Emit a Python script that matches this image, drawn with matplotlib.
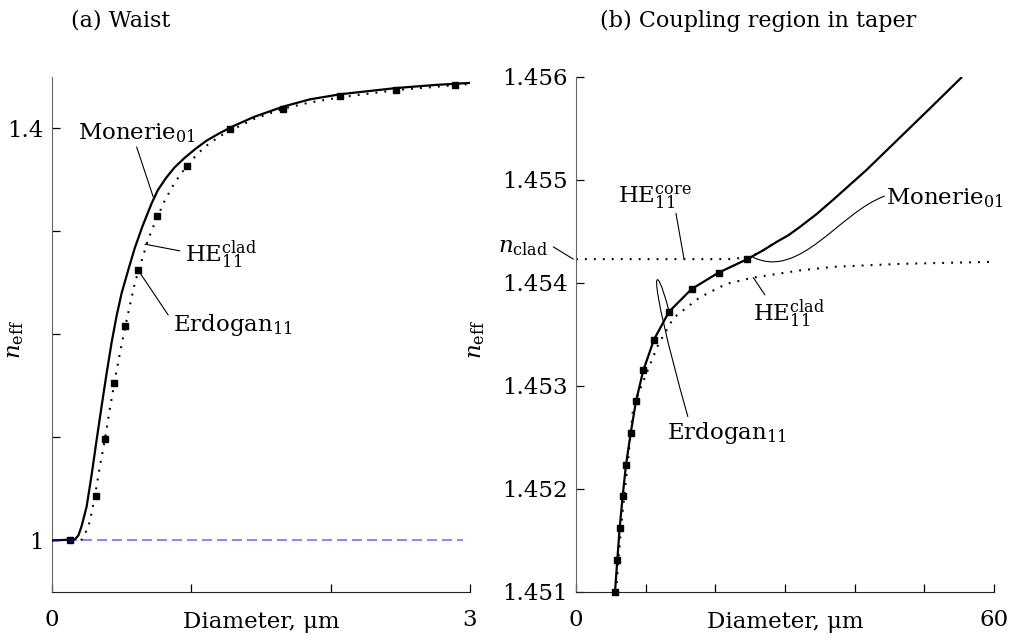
import numpy as np
import matplotlib
matplotlib.use("Agg")
import matplotlib.pyplot as plt
from matplotlib.path import Path
from matplotlib.patches import PathPatch

plt.rcParams['font.family'] = ['DejaVu Serif']
plt.rcParams['mathtext.fontset'] = 'dejavuserif'

# ---- (a) waist: n_eff vs diameter (um)
d_mon_a = [0.0, 0.165, 0.19, 0.213, 0.249, 0.285, 0.320, 0.356, 0.392, 0.428, 0.464, 0.50,
           0.553, 0.595, 0.65, 0.715, 0.76, 0.82, 0.88, 0.95, 1.03, 1.11, 1.20, 1.30, 1.45,
           1.66, 1.85, 2.07, 2.27, 2.47, 2.75, 3.0]
n_mon_a = [1.0, 1.001, 1.005, 1.014, 1.033, 1.064, 1.097, 1.130, 1.162, 1.192, 1.218, 1.240,
           1.265, 1.284, 1.305, 1.327, 1.340, 1.352, 1.362, 1.371, 1.380, 1.388, 1.395, 1.402,
           1.411, 1.421, 1.428, 1.433, 1.436, 1.439, 1.442, 1.444]

d_hecl_a = [0.21, 0.225, 0.25, 0.273, 0.308, 0.344, 0.38, 0.416, 0.452, 0.488, 0.53, 0.595,
            0.645, 0.69, 0.75, 0.81, 0.88, 0.954, 1.03, 1.098, 1.2, 1.3, 1.45, 1.66, 1.85,
            2.07, 2.47, 3.0]
n_hecl_a = [1.0, 1.004, 1.010, 1.019, 1.043, 1.072, 1.098, 1.128, 1.156, 1.182, 1.210, 1.250,
            1.272, 1.292, 1.312, 1.330, 1.347, 1.361, 1.373, 1.382, 1.392, 1.399, 1.409, 1.419,
            1.425, 1.430, 1.437, 1.443]

d_erd_a = [0.129, 0.313, 0.38, 0.447, 0.524, 0.62, 0.755, 0.97, 1.277, 1.66, 2.07, 2.47, 2.89]
n_erd_a = [1.0, 1.0436, 1.0987, 1.153, 1.208, 1.262, 1.315, 1.363, 1.399, 1.419, 1.431, 1.4375, 1.442]

n_air = 1.0
d_air_end = 2.95

# ---- (b) coupling region in taper
d_mon_b = [5.6, 5.93, 6.27, 6.70, 7.17, 7.85, 8.61, 9.66, 11.2, 13.36, 16.6, 20.5, 24.6,
           26.9, 28.8, 30.5, 32.1, 34.5, 36.9, 41.7, 46.5, 51.3, 55.3]
n_mon_b = [1.45100, 1.45131, 1.45162, 1.45193, 1.45223, 1.45254, 1.45285, 1.45315, 1.45345,
           1.45372, 1.45394, 1.45410, 1.45423, 1.454317, 1.454397, 1.454462, 1.454540,
           1.454665, 1.454805, 1.455095, 1.455410, 1.455725, 1.455990]

d_core_b = [0.0, 22.0, 25.0, 27.0, 28.8]
n_core_b = [1.45423, 1.45423, 1.45425, 1.45432, 1.45440]

d_hecl_b = [5.75, 6.45, 7.4, 8.22, 10.1, 11.8, 14.0, 17.8, 21.6, 25.4, 32.1, 36.9, 46.5, 59.4]
n_hecl_b = [1.45100, 1.45162, 1.45223, 1.45280, 1.45312, 1.45340, 1.45366, 1.45386, 1.45399,
            1.45405, 1.45412, 1.454155, 1.454184, 1.454203]

d_erd_b = [5.6, 5.93, 6.27, 6.70, 7.17, 7.85, 8.61, 9.66, 11.2, 13.36, 16.6, 20.5, 24.6]
n_erd_b = [1.45100, 1.45131, 1.45162, 1.45193, 1.45223, 1.45254, 1.45285, 1.45315, 1.45345,
           1.45372, 1.45394, 1.45410, 1.45423]

FS = 16.5
dots = (0, (0.9, 3.4))
lw_main = 1.6

fig = plt.figure(figsize=(10.13, 6.42), dpi=100)
axa = fig.add_axes([0.0513, 0.0779, 0.4126, 0.8026])
axb = fig.add_axes([0.5686, 0.0779, 0.4126, 0.8026])

for ax in (axa, axb):
    ax.spines['top'].set_visible(False)
    ax.spines['right'].set_visible(False)
    ax.spines['left'].set_color('#666666')
    ax.spines['bottom'].set_color('#222222')
    ax.tick_params(direction='in', length=6, width=0.9, labelsize=FS)
    ax.tick_params(axis='y', pad=6)
    ax.tick_params(axis='x', pad=12)

# panel (a)
axa.plot([0, d_air_end], [n_air, n_air], color='blue', alpha=0.55, lw=1.2,
         dashes=(6, 3), zorder=4)
axa.plot(d_mon_a, n_mon_a, color='black', lw=lw_main, zorder=3)
axa.plot(d_hecl_a, n_hecl_a, color='black', lw=1.5, linestyle=dots, zorder=2)
axa.plot(d_erd_a, n_erd_a, linestyle='none', marker='s', ms=4.2, color='black', zorder=3)
axa.set_xlim(0, 3)
axa.set_ylim(0.95, 1.45)
axa.set_xticks([0, 1, 2, 3])
axa.set_xticklabels(['0', '', '', '3'])
axa.set_yticks([1.0, 1.1, 1.2, 1.3, 1.4])
axa.set_yticklabels(['1', '', '', '', '1.4'])
axa.set_xlabel('Diameter, μm', fontsize=FS)
axa.xaxis.set_label_coords(0.5, -0.036)
axa.set_ylabel(r'$n_{\mathrm{eff}}$', fontsize=FS)
axa.yaxis.set_label_coords(-0.062, 0.49)

lead = dict(arrowstyle='-', color='black', lw=0.8, shrinkA=0, shrinkB=0)
axa.text(0.187, 1.3889, r'Monerie$_{01}$', fontsize=FS, va='baseline')
axa.annotate('', xy=(0.727, 1.3333), xytext=(0.608, 1.3817), arrowprops=lead)
axa.text(0.954, 1.2704, r'HE$_{11}^{\mathrm{clad}}$', fontsize=FS, va='baseline')
axa.annotate('', xy=(0.667, 1.2875), xytext=(0.918, 1.281), arrowprops=lead)
axa.text(0.87, 1.2036, r'Erdogan$_{11}$', fontsize=FS, va='baseline')
axa.annotate('', xy=(0.62, 1.262), xytext=(0.834, 1.2188), arrowprops=lead)

# panel (b)
axb.plot(d_core_b, n_core_b, color='black', lw=1.5, linestyle=dots, zorder=2, clip_on=False)
axb.plot(d_hecl_b, n_hecl_b, color='black', lw=1.5, linestyle=dots, zorder=2)
axb.plot(d_mon_b, n_mon_b, color='black', lw=lw_main, zorder=3)
axb.plot(d_erd_b, n_erd_b, linestyle='none', marker='s', ms=4.2, color='black', zorder=3,
         clip_on=False)
axb.set_xlim(0, 60)
axb.set_ylim(1.451, 1.456)
axb.set_xticks(np.arange(0, 61, 10))
axb.set_xticklabels(['0', '', '', '', '', '', '60'])
axb.set_yticks([1.451, 1.452, 1.453, 1.454, 1.455, 1.456])
axb.set_yticklabels(['1.451', '1.452', '1.453', '1.454', '1.455', '1.456'])
axb.set_xlabel('Diameter, μm', fontsize=FS)
axb.xaxis.set_label_coords(0.5, -0.036)
axb.set_ylabel(r'$n_{\mathrm{eff}}$', fontsize=FS)
axb.yaxis.set_label_coords(-0.213, 0.49)

axb.text(-4.0, 1.454300, r'$n_{\mathrm{clad}}$', fontsize=FS, va='baseline', ha='right')
axb.annotate('', xy=(-0.39, 1.45423), xytext=(-3.26, 1.454349), arrowprops=lead,
             annotation_clip=False)
axb.text(6.07, 1.454769, r'HE$_{11}^{\mathrm{core}}$', fontsize=FS, va='baseline')
axb.annotate('', xy=(15.5, 1.454236), xytext=(14.35, 1.454673), arrowprops=lead)
axb.text(44.57, 1.454763, r'Monerie$_{01}$', fontsize=FS, va='baseline')
axb.text(25.44, 1.453632, r'HE$_{11}^{\mathrm{clad}}$', fontsize=FS, va='baseline')
axb.annotate('', xy=(25.44, 1.454052), xytext=(27.12, 1.453883), arrowprops=lead)
axb.text(13.01, 1.452483, r'Erdogan$_{11}$', fontsize=FS, va='baseline')

# curved leaders
bez = [Path.MOVETO, Path.CURVE4, Path.CURVE4, Path.CURVE4]
mon_lead = Path([(44.33, 1.454842), (37.88, 1.454687), (32.14, 1.454026), (25.39, 1.454249)], bez)
erd_lead = Path([(16.07, 1.452699), (9.60, 1.454250), (11.48, 1.454230), (13.34, 1.453726)], bez)
for p in (mon_lead, erd_lead):
    axb.add_patch(PathPatch(p, facecolor='none', edgecolor='black', lw=0.8, zorder=4))

fig.text(71 / 1013, 1 - 27 / 642, '(a) Waist', fontsize=16, va='baseline')
fig.text(600 / 1013, 1 - 27 / 642, '(b) Coupling region in taper', fontsize=16, va='baseline')

fig.savefig('out.png', dpi=100)
